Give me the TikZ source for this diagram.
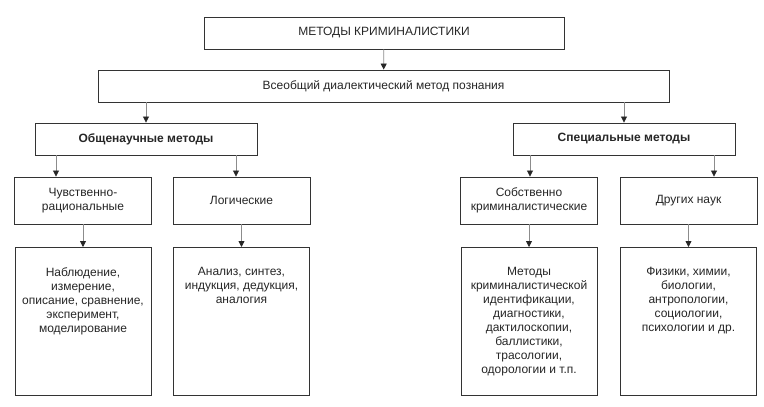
\documentclass[tikz,border=0pt]{standalone}
\usepackage{fontspec}
\setmainfont{Liberation Sans}
\usetikzlibrary{arrows.meta}

\newcommand\leafbox[1]{\parbox[c][148pt][t]{136pt}{\centering\vspace*{20pt}#1}}

\begin{document}
\begin{tikzpicture}[x=1pt,y=-1pt,
    box/.style={draw=black!80, line width=0.9pt, inner sep=0pt, align=center, text=black!85, font=\fontsize{12}{14}\selectfont},
    head/.style={box, minimum width=222, minimum height=32, font=\fontsize{12}{14}\selectfont\bfseries},
    kind/.style={box, minimum width=137, minimum height=47},
    leaf/.style={box, anchor=north},
    arr/.style={draw=black!45, line width=0.8pt, -{Triangle[width=6pt,length=6pt,color=black!85]}}]
  \fill[white] (0,0) rectangle (764,407);
  \useasboundingbox (0,0) rectangle (764,407);
  % top levels
  \node[box, minimum width=360, minimum height=32] (top) at (384,33) {МЕТОДЫ КРИМИНАЛИСТИКИ};
  \node[box, minimum width=571, minimum height=32] (dial) at (383.5,86) {Всеобщий диалектический метод познания};
  \node[head] (obsh) at (146,139) {Общенаучные методы};
  \node[head] (spec) at (624,139) {Специальные методы};
  % kinds of methods
  \node[kind] (chuv) at (83,200.5) {Чувственно-\\рациональные};
  \node[kind] (logic) at (241.5,200.5) {Логические};
  \node[kind] (sobst) at (529,200.5) {Собственно\\криминалистические};
  \node[kind] (drug) at (688.5,200.5) {Других наук};
  % lists
  \node[leaf] (chuvl) at (83,247) {\leafbox{Наблюдение,\\измерение,\\описание, сравнение,\\эксперимент,\\моделирование}};
  \node[leaf] (logicl) at (241.5,247) {\leafbox{Анализ, синтез,\\индукция, дедукция,\\аналогия}};
  \node[leaf] (sobstl) at (529,247) {\leafbox{Методы\\криминалистической\\идентификации,\\диагностики,\\дактилоскопии,\\баллистики,\\трасологии,\\одорологии и т.п.}};
  \node[leaf] (drugl) at (688.5,247) {\leafbox{Физики, химии,\\биологии,\\антропологии,\\социологии,\\психологии и др.}};
  % connectors
  \draw[arr] (top) -- (dial);
  \draw[arr] (obsh |- dial.south) -- (obsh);
  \draw[arr] (spec |- dial.south) -- (spec);
  \coordinate (c1) at ([xshift=-27]chuv.north);
  \coordinate (c2) at ([xshift=-5.5]logic.north);
  \coordinate (c3) at ([xshift=1]sobst.north);
  \coordinate (c4) at ([xshift=25.5]drug.north);
  \draw[arr] (c1 |- obsh.south) -- (c1);
  \draw[arr] (c2 |- obsh.south) -- (c2);
  \draw[arr] (c3 |- spec.south) -- (c3);
  \draw[arr] (c4 |- spec.south) -- (c4);
  \draw[arr] (chuv) -- (chuvl);
  \draw[arr] (logic) -- (logicl);
  \draw[arr] (sobst) -- (sobstl);
  \draw[arr] (drug) -- (drugl);
\end{tikzpicture}
\end{document}
